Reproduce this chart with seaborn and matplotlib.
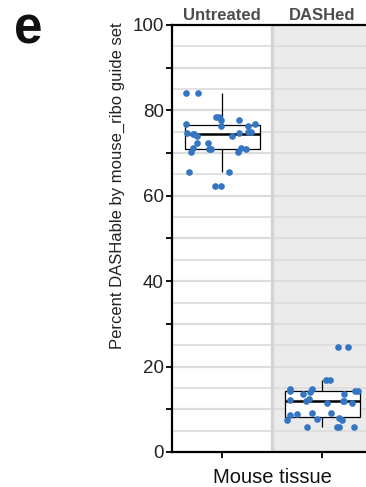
import numpy as np
import pandas as pd
import matplotlib
matplotlib.use("Agg")
import matplotlib.pyplot as plt
import seaborn as sns
from matplotlib.ticker import MultipleLocator

sns.set_style("white")
plt.rcParams['font.family'] = ['Liberation Sans', 'DejaVu Sans']

conditions = ["Untreated", "DASHed"]
untreated = [84.0, 84.0, 78.4, 77.8, 78.4, 77.8, 76.7, 76.4, 76.7, 76.4, 74.8,
             74.4, 75.0, 75.0, 73.9, 73.9, 74.8, 74.4, 72.4, 72.4, 71.3, 71.0,
             71.0, 71.0, 71.3, 70.2, 70.2, 65.6, 65.6, 62.4, 62.4]
dashed = [24.7, 24.7, 16.9, 16.9, 14.4, 14.4, 14.0, 13.6, 13.6, 14.8, 14.8,
          14.2, 12.3, 12.1, 11.9, 11.9, 11.5, 11.9, 11.5, 9.2, 9.2, 8.8, 7.8,
          8.0, 8.6, 7.4, 7.4, 5.8, 5.8, 5.8, 5.8]
y_ticks = [0, 20, 40, 60, 80, 100]

df = pd.DataFrame({
    "condition": [conditions[0]] * len(untreated) + [conditions[1]] * len(dashed),
    "value": untreated + dashed,
})

fig = plt.figure(figsize=(3.66, 4.87), dpi=100)
ax = fig.add_axes([172 / 366, 35 / 487, 200 / 366, 427 / 487])

ax.axvspan(0.5, 1.5, color="#ebebeb", zorder=0, lw=0)
for v in np.arange(5, 100, 5):
    ax.axhline(v, color="#dcdcdc", lw=1.2 if v % 10 else 1.6, zorder=0.5)
ax.axvline(0.5, color="#d4d4d4", lw=2.4, zorder=0.6)

sns.boxplot(data=df, x="condition", y="value", order=conditions, ax=ax,
            width=0.75, showfliers=False, whis=1.5,
            boxprops=dict(facecolor="white", edgecolor="black", linewidth=0.9),
            whiskerprops=dict(color="black", linewidth=0.9),
            capprops=dict(linewidth=0),
            medianprops=dict(color="black", linewidth=1.8),
            zorder=2)
np.random.seed(11)
sns.stripplot(data=df, x="condition", y="value", order=conditions, ax=ax,
              jitter=0.37, color="#3476c2", size=4.8, linewidth=0, zorder=3)

ax.set_xlim(-0.5, 1.5)
ax.set_ylim(0, 100)
ax.set_yticks(y_ticks)
ax.yaxis.set_minor_locator(MultipleLocator(10))
ax.set_xticks([0, 1])
ax.set_xticklabels(["", ""])
ax.tick_params(axis="y", which="both", direction="out", length=4.5, width=1.3,
               color="black", labelsize=13.5, labelcolor="#222222", pad=1.5, left=True)
ax.tick_params(axis="x", which="both", direction="out", length=4, width=1.3,
               color="black", bottom=True)
for s in ["left", "top", "bottom"]:
    ax.spines[s].set_visible(True)
    ax.spines[s].set_color("black")
    ax.spines[s].set_linewidth(1.6)
ax.spines["right"].set_visible(False)

ax.set_xlabel("Mouse tissue", fontsize=14.5, color="#111111", labelpad=4)
ax.set_ylabel("")
fig.text(117.5 / 366, 1 - 186 / 487, "Percent DASHable by mouse_ribo guide set",
         rotation=90, ha="center", va="center", fontsize=12, color="#222222")

for i, c in enumerate(conditions):
    ax.annotate(c, xy=(i, 1.0), xycoords=("data", "axes fraction"),
                xytext=(0, 3.5), textcoords="offset points",
                ha="center", va="baseline", fontsize=12, fontweight="bold",
                color="#4d4d4d")

fig.text(14 / 366, 1 - 43 / 487, "e", fontsize=37, fontweight="bold",
         ha="left", va="baseline", color="#111111")

fig.savefig("out.png", dpi=100)
